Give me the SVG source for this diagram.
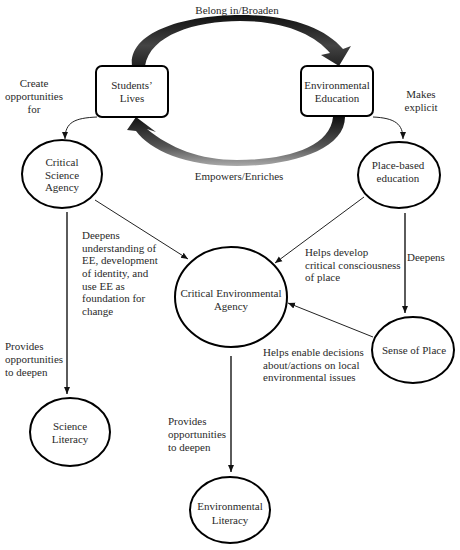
<svg xmlns="http://www.w3.org/2000/svg" width="460" height="550" viewBox="0 0 460 550">
<style>
text{font-family:"Liberation Serif","Times New Roman","DejaVu Serif",serif;font-size:11px;fill:#2a2a2a}
.c{text-anchor:middle}
.node{fill:#fff;stroke:#000;stroke-width:2}
.ln{fill:none;stroke:#222;stroke-width:1}
.lnb{fill:none;stroke:#333;stroke-width:1.6}
</style>
<defs>
<marker id="ah" markerWidth="8" markerHeight="8" refX="7" refY="4" orient="auto" markerUnits="userSpaceOnUse">
<path d="M0,1 L7,4 L0,7 Z" fill="#111"/>
</marker>
<linearGradient id="g1" x1="0" y1="0" x2="0" y2="1">
<stop offset="0" stop-color="#111"/>
<stop offset="0.6" stop-color="#444"/>
<stop offset="1" stop-color="#222"/>
</linearGradient>
<linearGradient id="g2" x1="0" y1="1" x2="0" y2="0">
<stop offset="0" stop-color="#aaa"/>
<stop offset="0.4" stop-color="#555"/>
<stop offset="1" stop-color="#111"/>
</linearGradient>
</defs>

<g id="connectors">
<path d="M132,66 C128,32 185,15 240,15 C290,15 325,28 343,49 L351,46 L339,66 L321,55 L330,53 C315,35 285,21 240,21 C195,21 150,35 145,66 Z" fill="url(#g1)"/>
<path d="M345,117 C345,150 290,166 237,166 C185,166 150,150 136,131 L127,130 L136,117 L156,132 L147,129 C170,148 200,160 237,160 C285,160 330,148 333,117 Z" fill="url(#g2)"/>
<path class="ln" d="M97,117 C75,118 65,122 65,139" marker-end="url(#ah)"/>
<path class="ln" d="M373,117 C395,118 403,124 403,139" marker-end="url(#ah)"/>
<line class="ln" x1="95" y1="200" x2="188" y2="259" marker-end="url(#ah)"/>
<line class="ln" x1="364" y1="197" x2="275" y2="263" marker-end="url(#ah)"/>
<line class="lnb" x1="405" y1="213" x2="405" y2="313" marker-end="url(#ah)"/>
<line class="ln" x1="373" y1="337" x2="288" y2="303" marker-end="url(#ah)"/>
<line class="lnb" x1="67" y1="212" x2="67" y2="394" marker-end="url(#ah)"/>
<line class="lnb" x1="231" y1="356" x2="231" y2="472" marker-end="url(#ah)"/>
</g>

<g id="labels">
<text class="c" x="237" y="14">Belong in/Broaden</text>
<text class="c" x="239" y="180">Empowers/Enriches</text>
<text class="c" x="34" y="87">Create</text>
<text class="c" x="34" y="100">opportunities</text>
<text class="c" x="34" y="113">for</text>
<text class="c" x="421" y="98">Makes</text>
<text class="c" x="421" y="111">explicit</text>
<text x="82" y="239">Deepens</text>
<text x="82" y="252">understanding of</text>
<text x="82" y="264">EE, development</text>
<text x="82" y="277">of identity, and</text>
<text x="82" y="290">use EE as</text>
<text x="82" y="302">foundation for</text>
<text x="82" y="315">change</text>
<text x="305" y="256">Helps develop</text>
<text x="305" y="269">critical consciousness</text>
<text x="305" y="281">of place</text>
<text x="407" y="261">Deepens</text>
<text x="263" y="356">Helps enable decisions</text>
<text x="263" y="368.5">about/actions on local</text>
<text x="263" y="381">environmental issues</text>
<text x="5" y="350">Provides</text>
<text x="5" y="363">opportunities</text>
<text x="5" y="376">to deepen</text>
<text x="168" y="425">Provides</text>
<text x="168" y="438">opportunities</text>
<text x="168" y="451">to deepen</text>
</g>

<g id="students-lives">
<rect class="node" x="96" y="66" width="72" height="51" rx="6"/>
<text class="c" x="132" y="89">Students’</text>
<text class="c" x="132" y="102">Lives</text>
</g>
<g id="environmental-education">
<rect class="node" x="301" y="66" width="72" height="50" rx="6"/>
<text class="c" x="337" y="89">Environmental</text>
<text class="c" x="337" y="102">Education</text>
</g>
<g id="critical-science-agency">
<ellipse class="node" cx="62" cy="174" rx="40" ry="34"/>
<text class="c" x="62" y="166">Critical</text>
<text class="c" x="62" y="179">Science</text>
<text class="c" x="62" y="191">Agency</text>
</g>
<g id="place-based-education">
<ellipse class="node" cx="399" cy="175" rx="41" ry="33"/>
<text class="c" x="398" y="169">Place-based</text>
<text class="c" x="398" y="182">education</text>
</g>
<g id="critical-environmental-agency">
<ellipse class="node" cx="231" cy="297" rx="56" ry="50"/>
<text class="c" x="231" y="297">Critical Environmental</text>
<text class="c" x="231" y="310">Agency</text>
</g>
<g id="sense-of-place">
<ellipse class="node" cx="413" cy="350" rx="41" ry="33"/>
<text class="c" x="414" y="354">Sense of Place</text>
</g>
<g id="science-literacy">
<ellipse class="node" cx="70" cy="432" rx="40" ry="34"/>
<text class="c" x="70" y="430">Science</text>
<text class="c" x="70" y="443">Literacy</text>
</g>
<g id="environmental-literacy">
<ellipse class="node" cx="230" cy="510" rx="40" ry="33"/>
<text class="c" x="230" y="510">Environmental</text>
<text class="c" x="230" y="524">Literacy</text>
</g>
</svg>
